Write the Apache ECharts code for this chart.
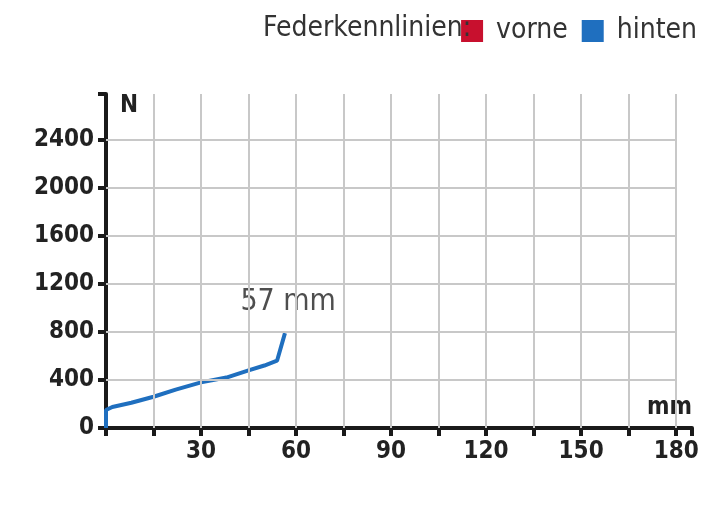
<!DOCTYPE html><html><head><meta charset="utf-8"><script src="https://cdn.jsdelivr.net/npm/echarts@6/dist/echarts.min.js"></script>
<style>html,body{margin:0;padding:0;background:#fff}#c{width:712px;height:518px}</style></head><body><div id="c"></div><script>
const hintenX=[0,0,2,8,15,22,30,38,45,50,54,54.5,56.5];
const hintenY=[0,150,175,210,260,320,380,420,480,520,560,560,790];
const xLabels=[30,60,90,120,150,180];
const yLabels=[0,400,800,1200,1600,2000,2400];
const xGrid=[15,30,45,60,75,90,105,120,135,150,165,180];
const yGrid=[400,800,1200,1600,2000,2400];
const F="'Liberation Sans Narrow','DejaVu Sans Condensed','Roboto Condensed',sans-serif";
const gridStyle={color:'#c8c8c8',width:2,type:'solid'};
const ch=echarts.init(document.getElementById('c'));
ch.setOption({
animation:false,
title:{text:'Federkennlinien:',left:258,top:10,textStyle:{fontFamily:F,fontSize:28,fontWeight:'normal',color:'#333'}},
legend:{right:10,top:12,itemWidth:22,itemHeight:22,itemGap:14,icon:'rect',data:['vorne','hinten'],textStyle:{fontFamily:F,fontSize:28,color:'#333',padding:[0,0,0,8]}},
grid:{left:106,right:20,top:94,bottom:90},
xAxis:{type:'value',min:0,max:185,interval:15,name:'mm',nameLocation:'end',nameGap:0,
 nameTextStyle:{fontFamily:F,fontWeight:'bold',fontSize:24,color:'#222',align:'right',verticalAlign:'bottom',padding:[0,0,8,0]},
 axisLine:{lineStyle:{color:'#1a1a1a',width:4}},axisTick:{show:true,length:8,lineStyle:{color:'#1a1a1a',width:4}},
 axisLabel:{fontFamily:F,fontWeight:'bold',fontSize:24,color:'#222',margin:12,formatter:v=>xLabels.includes(v)?String(v):''},
 splitLine:{show:false}},
yAxis:{type:'value',min:0,max:2780,interval:400,name:'N',nameLocation:'end',nameGap:0,
 nameTextStyle:{fontFamily:F,fontWeight:'bold',fontSize:24,color:'#222',align:'left',verticalAlign:'top',padding:[0,0,0,14]},
 axisLine:{lineStyle:{color:'#1a1a1a',width:4}},axisTick:{show:true,length:8,lineStyle:{color:'#1a1a1a',width:4}},
 axisLabel:{fontFamily:F,fontWeight:'bold',fontSize:24,color:'#222',margin:12,formatter:v=>yLabels.includes(v)?String(v):''},
 splitLine:{show:false}},
series:[
 {name:'vorne',type:'line',data:[],itemStyle:{color:'#c8102e'}},
 {type:'line',data:[],silent:true,z:1,markLine:{silent:true,symbol:'none',label:{show:false},lineStyle:gridStyle,animation:false,
   data:[...xGrid.map(x=>({xAxis:x})),...yGrid.map(y=>[{coord:[0,y]},{coord:[180,y]}])]}},
 {name:'hinten',type:'line',z:3,data:hintenX.map((x,i)=>[x,hintenY[i]]),showSymbol:false,itemStyle:{color:'#1f6fbf'},lineStyle:{color:'#1f6fbf',width:4}},
 {type:'scatter',z:4,data:[[57.5,1050]],symbolSize:0,silent:true,label:{show:true,formatter:'57 mm',fontFamily:F,fontSize:30,color:'#222',backgroundColor:'#fff',padding:[2,4]}}
]});
</script></body></html>
